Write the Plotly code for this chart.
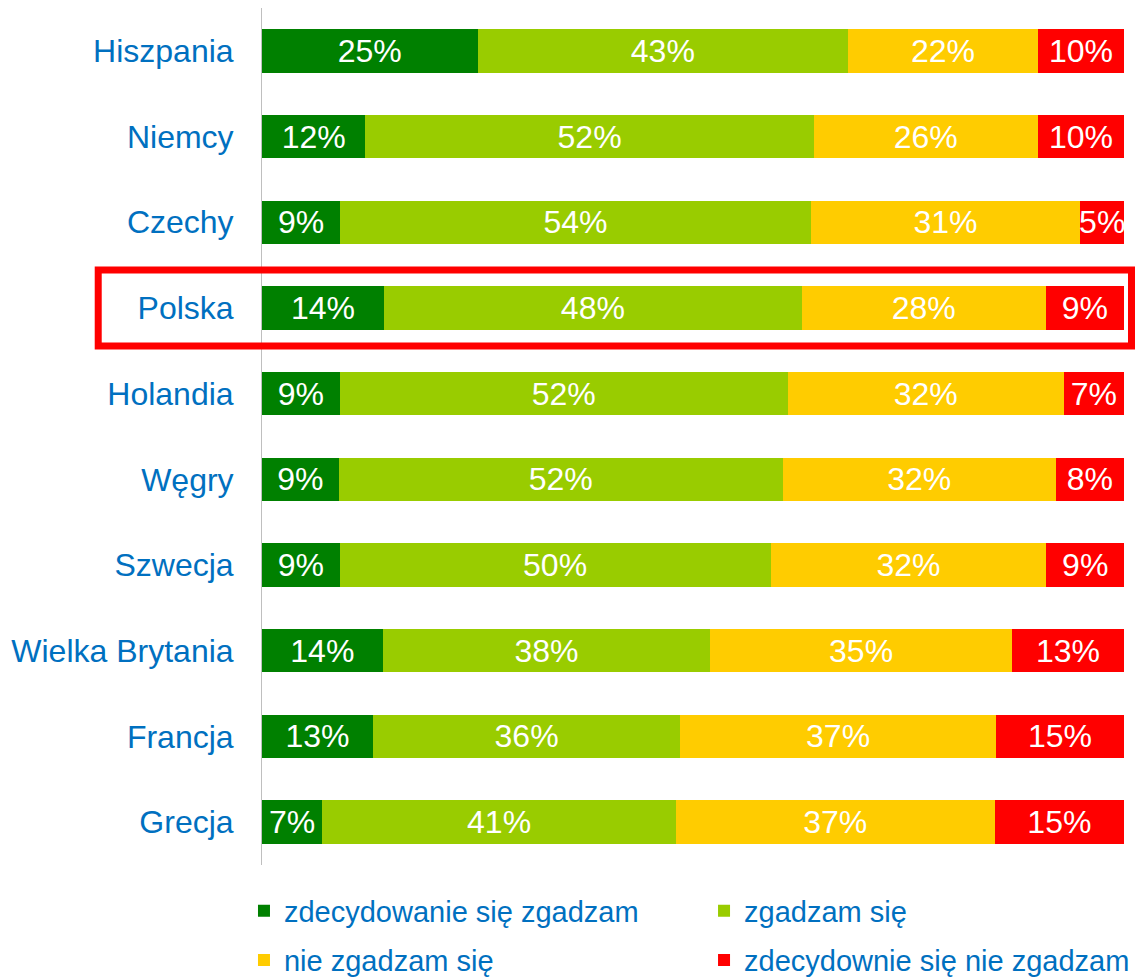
import plotly.graph_objects as go

countries = ["Hiszpania", "Niemcy", "Czechy", "Polska", "Holandia", "Węgry",
             "Szwecja", "Wielka Brytania", "Francja", "Grecja"]
strongly_agree = [25, 12, 9, 14, 9, 9, 9, 14, 13, 7]
agree = [43, 52, 54, 48, 52, 52, 50, 38, 36, 41]
disagree = [22, 26, 31, 28, 32, 32, 32, 35, 37, 37]
strongly_disagree = [10, 10, 5, 9, 7, 8, 9, 13, 15, 15]

series_names = ["zdecydowanie się zgadzam", "zgadzam się",
                "nie zgadzam się", "zdecydownie się nie zgadzam"]
series_values = [strongly_agree, agree, disagree, strongly_disagree]
series_colors = ["#008000", "#99CC00", "#FFCC00", "#FF0000"]
series_legends = ["legend", "legend2", "legend3", "legend4"]

highlight = "Polska"

FONT = "Liberation Sans, Arial, sans-serif"
BLUE = "#0070C0"

fig = go.Figure()
for name, vals, col, lg in zip(series_names, series_values, series_colors, series_legends):
    fig.add_trace(go.Bar(
        y=countries, x=vals, name=name, orientation="h",
        marker=dict(color=col, line=dict(width=0)),
        text=[f"{v}%" for v in vals],
        textposition="inside", insidetextanchor="middle",
        constraintext="none",
        textfont=dict(color="white", size=32, family=FONT),
        legend=lg, hoverinfo="skip",
    ))

# highlight box around the chosen country's row (paper coords, reversed category axis)
n = len(countries)
idx = countries.index(highlight)
yc = 1 - (idx + 0.5) / n
half = 0.444 / n
fig.add_shape(type="rect", xref="paper", yref="paper",
              x0=-0.190, x1=1.0087, y0=yc - half, y1=yc + half,
              line=dict(color="#FF0000", width=7), fillcolor="rgba(0,0,0,0)",
              layer="above")

legend_common = dict(
    orientation="v", xanchor="left", yanchor="middle",
    font=dict(color=BLUE, size=29, family=FONT),
    bgcolor="rgba(0,0,0,0)", itemclick=False, itemdoubleclick=False,
)
col_x = [-0.0209, 0.5128]
row_y = [-0.0537, -0.1109]

fig.update_layout(
    width=1135, height=977,
    margin=dict(l=262, r=11, t=8, b=112, autoexpand=False),
    paper_bgcolor="white", plot_bgcolor="white",
    barmode="stack", barnorm="percent", bargap=0.493,
    font=dict(family=FONT, color=BLUE),
    xaxis=dict(range=[0, 100], showgrid=False, zeroline=False,
               showticklabels=False, showline=False, fixedrange=True),
    yaxis=dict(autorange="reversed", showgrid=False, zeroline=False,
               showline=True, linecolor="#BFBFBF", linewidth=1,
               ticks="", ticklabelstandoff=21,
               tickfont=dict(size=32, color=BLUE, family=FONT),
               fixedrange=True),
    legend=dict(x=col_x[0], y=row_y[0], **legend_common),
    legend2=dict(x=col_x[1], y=row_y[0], **legend_common),
    legend3=dict(x=col_x[0], y=row_y[1], **legend_common),
    legend4=dict(x=col_x[1], y=row_y[1], **legend_common),
    showlegend=True,
    hovermode=False,
)

fig.write_html(
    "out.html",
    config={"displayModeBar": False, "staticPlot": False},
    post_script="document.body.style.margin='0';document.body.style.overflow='hidden';",
)
